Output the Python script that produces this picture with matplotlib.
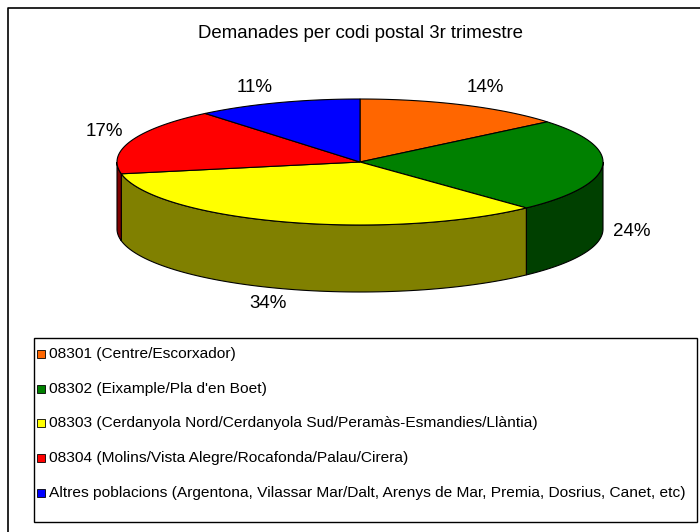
import numpy as np
import matplotlib
matplotlib.use('Agg')
import matplotlib.pyplot as plt
from matplotlib.patches import Polygon, Rectangle

plt.rcParams['font.family'] = ['Liberation Sans', 'DejaVu Sans']

title = 'Demanades per codi postal 3r trimestre'
labels = ['08301 (Centre/Escorxador)',
          '08302 (Eixample/Pla d\'en Boet)',
          '08303 (Cerdanyola Nord/Cerdanyola Sud/Peramàs-Esmandies/Llàntia)',
          '08304 (Molins/Vista Alegre/Rocafonda/Palau/Cirera)',
          'Altres poblacions (Argentona, Vilassar Mar/Dalt, Arenys de Mar, Premia, Dosrius, Canet, etc)']
values = [14, 24, 34, 17, 11]
top_colors = ['#ff6600', '#008000', '#ffff00', '#ff0000', '#0000ff']
side_colors = ['#803300', '#004000', '#808000', '#800000', '#000080']

# pie geometry in pixel units
cx, cy = 360, 162
rx, ry = 243, 63
depth = 67

fig = plt.figure(figsize=(7, 5.32), dpi=100)
ax = fig.add_axes([0, 0, 1, 1])
ax.set_xlim(0, 700)
ax.set_ylim(532, 0)
ax.axis('off')

# outer frame
ax.plot([7.5, 7.5, 700], [532, 7.5, 7.5], color='black', lw=1.2)


def pt(a, dy=0):
    r = np.radians(a)
    return cx + rx * np.cos(r), cy - ry * np.sin(r) + dy


total = float(sum(values))
angles = [90.0]
for v in values:
    angles.append(angles[-1] - v / total * 360.0)

# side walls (front half only: angles between -180 and 0)
for i in range(len(values)):
    a1, a2 = angles[i], angles[i + 1]
    lo, hi = max(a2, -180.0), min(a1, 0.0)
    if hi <= lo:
        continue
    t = np.linspace(hi, lo, 80)
    top = [pt(a) for a in t]
    bot = [pt(a, depth) for a in t[::-1]]
    ax.add_patch(Polygon(top + bot, closed=True, facecolor=side_colors[i],
                         edgecolor='black', lw=0.8))

# top faces
for i in range(len(values)):
    a1, a2 = angles[i], angles[i + 1]
    t = np.linspace(a1, a2, 120)
    poly = [(cx, cy)] + [pt(a) for a in t]
    ax.add_patch(Polygon(poly, closed=True, facecolor=top_colors[i],
                         edgecolor='black', lw=0.8))

ax.text(361, 33, title, ha='center', va='center', fontsize=13.4)

# percent labels
lab_pos = [(485, 88), (632, 232), (268, 303), (104, 132), (255, 87)]
for v, (x, y) in zip(values, lab_pos):
    ax.text(x, y, '%d%%' % v, ha='center', va='center', fontsize=13.5)

# legend
ax.add_patch(Rectangle((33.5, 337.5), 663.5, 184.5, facecolor='white',
                       edgecolor='black', lw=1.0))
for i, lab in enumerate(labels):
    y = 354 + i * 34.7
    ax.add_patch(Rectangle((37, y - 4), 8, 8, facecolor=top_colors[i],
                           edgecolor='black', lw=0.6))
    ax.text(49, y, lab, ha='left', va='center', fontsize=11.15)

fig.savefig('out.png', dpi=100)
